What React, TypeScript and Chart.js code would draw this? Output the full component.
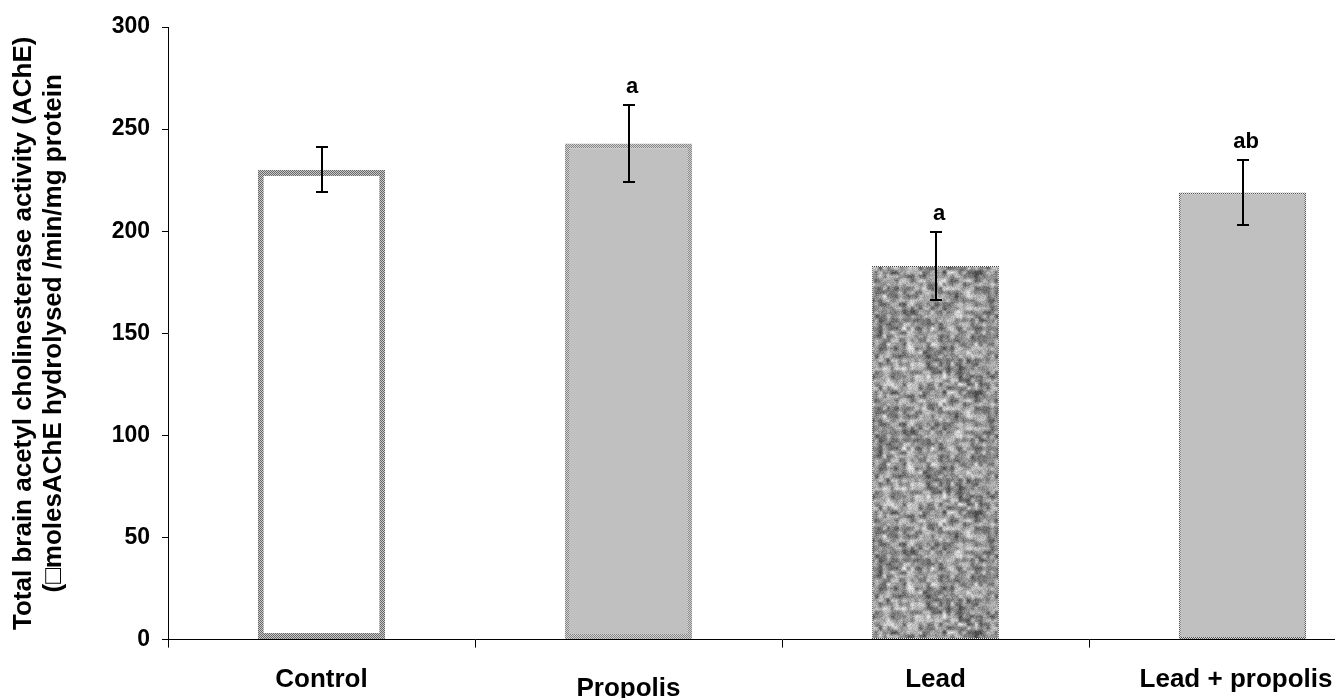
import React, { useEffect, useRef } from "react";
import { Chart, registerables } from "chart.js";

Chart.register(...registerables);

// ---- data ----
const categories = ["Control", "Propolis", "Lead", "Lead + propolis"];
const means = [230, 243, 183, 219];
const errors = [11, 19, 16.5, 16];
const letters = ["", "a", "a", "ab"];
const yMin = 0;
const yMax = 300;
const yStep = 50;
const yTitle = [
  "Total brain acetyl cholinesterase activity (AChE)",
  "(\u25A1molesAChE hydrolysed /min/mg protein",
];

const FONT = '"Liberation Sans", Arial, Helvetica, sans-serif';

function makeChecker(ctx: CanvasRenderingContext2D, c1: string, c2: string) {
  const cv = document.createElement("canvas");
  cv.width = 2;
  cv.height = 2;
  const g = cv.getContext("2d")!;
  g.fillStyle = c1;
  g.fillRect(0, 0, 2, 2);
  g.fillStyle = c2;
  g.fillRect(0, 0, 1, 1);
  g.fillRect(1, 1, 1, 1);
  return ctx.createPattern(cv, "repeat")!;
}

function hash(x: number, y: number) {
  const s = Math.sin(x * 12.9898 + y * 78.233) * 43758.5453;
  return s - Math.floor(s);
}

function valueNoise(x: number, y: number, cell: number, period: number) {
  const gx = x / cell;
  const gy = y / cell;
  const x0 = Math.floor(gx);
  const y0 = Math.floor(gy);
  const fx = gx - x0;
  const fy = gy - y0;
  const sx = fx * fx * (3 - 2 * fx);
  const sy = fy * fy * (3 - 2 * fy);
  const p = period;
  const m = (v: number) => ((v % p) + p) % p;
  const a = hash(m(x0), m(y0));
  const b = hash(m(x0 + 1), m(y0));
  const c = hash(m(x0), m(y0 + 1));
  const d = hash(m(x0 + 1), m(y0 + 1));
  return (a * (1 - sx) + b * sx) * (1 - sy) + (c * (1 - sx) + d * sx) * sy;
}

function makeGranite(ctx: CanvasRenderingContext2D) {
  const size = 120;
  const cv = document.createElement("canvas");
  cv.width = size;
  cv.height = size;
  const g = cv.getContext("2d")!;
  const img = g.createImageData(size, size);
  for (let y = 0; y < size; y++) {
    for (let x = 0; x < size; x++) {
      const n1 = valueNoise(x, y, 4, size / 4);
      const n2 = valueNoise(x + 17, y + 31, 8, size / 8);
      const n3 = hash(x + 0.37, y + 0.71);
      const v = 0.5 * n1 + 0.3 * n2 + 0.2 * n3;
      const gray = Math.max(70, Math.min(240, Math.round(40 + v * 220)));
      const i = (y * size + x) * 4;
      img.data[i] = gray;
      img.data[i + 1] = gray;
      img.data[i + 2] = gray;
      img.data[i + 3] = 255;
    }
  }
  g.putImageData(img, 0, 0);
  return ctx.createPattern(cv, "repeat")!;
}

const errorBarPlugin = {
  id: "errorBars",
  afterDatasetsDraw(chart: any) {
    const ctx: CanvasRenderingContext2D = chart.ctx;
    const meta = chart.getDatasetMeta(0);
    const y = chart.scales.y;
    ctx.save();
    ctx.strokeStyle = "#000";
    ctx.lineWidth = 2;
    meta.data.forEach((bar: any, i: number) => {
      const x = Math.round(bar.x);
      const yTop = Math.round(y.getPixelForValue(means[i] + errors[i]));
      const yBot = Math.round(y.getPixelForValue(means[i] - errors[i]));
      ctx.beginPath();
      ctx.moveTo(x, yTop);
      ctx.lineTo(x, yBot);
      ctx.moveTo(x - 6, yTop);
      ctx.lineTo(x + 6, yTop);
      ctx.moveTo(x - 6, yBot);
      ctx.lineTo(x + 6, yBot);
      ctx.stroke();
      if (letters[i]) {
        ctx.fillStyle = "#000";
        ctx.font = `bold 22px ${FONT}`;
        ctx.textAlign = "center";
        ctx.textBaseline = "alphabetic";
        ctx.fillText(letters[i], x + 3, yTop - 12);
      }
    });
    ctx.restore();
  },
};

export default function App() {
  const canvasRef = useRef<HTMLCanvasElement | null>(null);

  useEffect(() => {
    const canvas = canvasRef.current!;
    const ctx = canvas.getContext("2d")!;
    const controlBorder = makeChecker(ctx, "#c8c8c8", "#6a6a6a");
    const propolisBorder = makeChecker(ctx, "#d4d4d4", "#858585");
    const leadBorder = makeChecker(ctx, "#eeeeee", "#444444");
    const lpBorder = makeChecker(ctx, "#dddddd", "#555555");
    const granite = makeGranite(ctx);

    const chart = new Chart(canvas, {
      type: "bar",
      data: {
        labels: categories,
        datasets: [
          {
            data: means,
            backgroundColor: ["#ffffff", "#c0c0c0", granite, "#c0c0c0"] as any,
            borderColor: [controlBorder, propolisBorder, leadBorder, lpBorder] as any,
            borderWidth: [6, 5, 1, 2],
            borderSkipped: false,
            barPercentage: 0.415,
            categoryPercentage: 1,
          },
        ],
      },
      options: {
        responsive: false,
        animation: false,
        devicePixelRatio: 1,
        layout: { padding: { top: 27, right: 24, bottom: 0, left: 0 } },
        plugins: {
          legend: { display: false },
          tooltip: { enabled: false },
        },
        scales: {
          x: {
            offset: true,
            grid: {
              offset: true,
              drawOnChartArea: false,
              drawTicks: true,
              tickLength: 8,
              color: "#000",
              lineWidth: 1,
            },
            border: { display: true, color: "#000", width: 1 },
            ticks: {
              color: "#000",
              padding: 17,
              maxRotation: 0,
              autoSkip: false,
              callback: (_v: any, i: number) =>
                i === categories.length - 1 ? categories[i] + "\u2002" : categories[i],
              font: (c: any) => ({
                family: FONT,
                size: 26,
                weight: "bold",
                lineHeight: c.index === 1 ? 1.9 : 1.2,
              }),
            },
          },
          y: {
            min: yMin,
            max: yMax,
            afterFit: (scale: any) => {
              scale.width = 168;
            },
            grid: {
              drawOnChartArea: false,
              drawTicks: true,
              tickLength: 6,
              color: "#000",
              lineWidth: 1,
            },
            border: { display: true, color: "#000", width: 1 },
            ticks: {
              stepSize: yStep,
              color: "#000",
              padding: 12,
              font: { family: FONT, size: 23, weight: "bold" },
            },
            title: {
              display: true,
              text: yTitle,
              color: "#000",
              padding: { top: 9, bottom: 0 },
              font: { family: FONT, size: 26, weight: "bold", lineHeight: 1.154 },
            },
          },
        },
      },
      plugins: [errorBarPlugin],
    });
    return () => chart.destroy();
  }, []);

  return (
    <div
      style={{
        position: "fixed",
        left: 0,
        top: 0,
        width: 1335,
        height: 698,
        overflow: "hidden",
        background: "#fff",
      }}
    >
      <canvas
        ref={canvasRef}
        width={1420}
        height={731}
        style={{ display: "block", width: 1420, height: 731 }}
      />
    </div>
  );
}
